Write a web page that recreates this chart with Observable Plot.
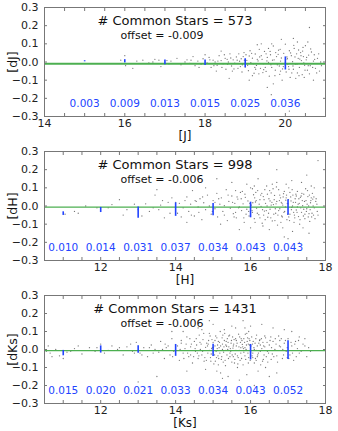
<!DOCTYPE html>
<html>
<head>
<meta charset="utf-8">
<script src="https://cdn.jsdelivr.net/npm/d3@7"></script>
<script src="https://cdn.jsdelivr.net/npm/@observablehq/plot@0.6"></script>
<style>
  html, body { margin: 0; padding: 0; background: #fff; }
  #chart { width: 338px; }
  #chart svg { display: block; }
</style>
</head>
<body>
<div id="chart"></div>
<script>
// ---------- DATA ----------
const panelNames = ["J", "H", "Ks"];
const commonStars = [573, 998, 1431];
const offsets = [-0.009, -0.006, -0.006];
const yTicks = [-0.3, -0.2, -0.1, 0.0, 0.1, 0.2, 0.3];
const xTicksJ = [14, 16, 18, 20];
const xTicksHK = [12, 14, 16, 18];

// binned error bars
const binMagJ = [15, 16, 17, 18, 19, 20];
const binMeanJ = [0.004, 0.004, -0.002, -0.004, -0.007, -0.008];
const binSigJ = [0.003, 0.009, 0.013, 0.015, 0.025, 0.036];

const binMagH = [11, 12, 13, 14, 15, 16, 17];
const binMeanH = [-0.042, -0.022, -0.036, -0.02, -0.02, -0.022, -0.008];
const binSigH = [0.010, 0.014, 0.031, 0.037, 0.034, 0.043, 0.043];

const binMagK = [11, 12, 13, 14, 15, 16, 17];
const binMeanK = [-0.02, 0.0, 0.0, -0.005, -0.005, -0.015, -0.003];
const binSigK = [0.015, 0.020, 0.021, 0.033, 0.034, 0.043, 0.052];

// scatter points (magnitude, difference)
const starsJ = `15.9,0.01 16.0,0.035 16.02,-0.02 16.3,0.005 16.45,0.01 16.6,-0.005 16.7,0.0 16.75,0.015 16.85,0.01
17.05,0.008 17.1,-0.01 17.15,0.005 17.3,0.02 17.4,-0.015 17.5,0.0 17.55,0.012 17.62,-0.008 17.7,0.03 17.75,-0.02
17.82,0.005 17.9,-0.012 17.95,0.018 18.05,-0.005 18.1,0.025 18.15,-0.03 18.2,0.01 18.25,0.0 18.3,-0.018 18.35,0.035
18.4,0.008 18.45,-0.01 18.5,0.02 18.52,-0.04 18.58,0.0 18.62,0.045 18.66,-0.022 18.7,0.012 18.74,-0.006 18.78,0.028
18.82,-0.035 18.86,0.004 18.9,0.018 18.93,-0.015 18.97,0.052 19.0,-0.028 19.04,0.009 19.08,-0.048 19.1,0.033
19.14,-0.004 19.18,0.021 19.22,-0.062 19.25,0.044 19.28,-0.019 19.32,0.006 19.35,0.07 19.38,-0.035 19.42,0.015
19.45,-0.01 19.48,0.058 19.52,-0.052 19.55,0.025 19.58,-0.002 19.6,-0.078 19.63,0.04 19.66,-0.03 19.7,0.088
19.72,0.012 19.75,-0.045 19.78,0.03 19.8,-0.015 19.83,0.065 19.86,-0.068 19.88,0.005 19.9,0.022 19.93,-0.038
19.96,0.048 19.98,-0.008 20.0,0.098 20.02,-0.055 20.05,0.018 20.08,-0.025 20.1,0.062 20.12,-0.085 20.15,0.035
20.18,0.002 20.2,-0.04 20.22,0.075 20.25,-0.012 20.28,0.045 20.3,-0.06 20.32,0.02 20.35,-0.03 20.38,0.052
20.4,0.008 20.42,-0.07 20.45,0.03 20.48,-0.018 20.5,0.09 20.52,0.012 20.55,-0.045 20.58,0.038 20.62,-0.02
20.65,0.055 20.7,0.005 20.75,-0.035 20.8,0.02 20.85,-0.05 19.4,0.1 19.55,-0.14 19.65,-0.18 20.1,-0.27 20.6,0.19
19.3,0.095 19.9,0.125 20.3,0.11 18.6,-0.09 19.1,-0.1 20.7,-0.1 20.2,0.13 19.7,-0.12 18.4,0.06
18.55,0.015 18.88,-0.025 19.02,0.04 19.2,-0.01 19.36,0.028 19.5,-0.03 19.68,0.01 19.85,-0.022 20.04,0.028
20.16,-0.06 20.33,0.066 20.46,-0.005 20.6,-0.065 20.72,0.04 19.12,0.062 19.44,-0.058 19.76,0.052 20.06,-0.012
20.26,-0.09 20.44,0.08 19.58,0.075 19.92,-0.1 20.36,0.016 18.68,-0.05 18.98,0.01 19.26,-0.04
18.12,0.012 18.22,-0.02 18.32,0.005 18.42,-0.03 18.48,0.04 18.56,-0.012 18.64,0.022 18.72,-0.038 18.8,0.01
18.84,0.045 18.92,-0.055 18.95,0.03 19.06,-0.018 19.16,0.048 19.24,-0.03 19.3,0.015 19.34,-0.065 19.4,0.035
19.46,-0.042 19.54,0.006 19.62,0.058 19.64,-0.015 19.74,-0.075 19.82,0.042 19.87,0.07 19.95,-0.025 20.01,0.015
20.09,-0.04 20.13,0.05 20.19,-0.022 20.24,0.028 20.29,-0.012 20.34,-0.075 20.39,0.035 20.43,0.06 20.49,-0.045
20.53,0.025 20.57,-0.02 20.63,0.072 20.68,-0.03 20.73,0.015 20.78,-0.06 20.83,0.045 20.88,0.0 19.52,0.045
19.88,-0.05 20.21,0.092 20.47,-0.085 19.18,-0.075 19.66,0.1 20.56,0.11 20.9,-0.02 17.85,-0.03 17.65,0.01 18.0,0.04
18.28,-0.05 16.2,-0.035 16.9,-0.025`;

const starsH = `11.05,-0.045 11.3,-0.03 11.6,0.0 11.9,-0.01 12.3,0.008 12.5,0.035 12.7,-0.02 12.9,0.01 13.1,-0.055
13.2,0.012 13.3,-0.03 13.45,0.06 13.55,-0.02 13.6,0.005 13.7,-0.065 13.8,0.02 13.9,0.045 14.05,-0.04 14.1,0.015
14.2,-0.01 14.3,0.05 14.35,-0.03 14.4,0.01 14.45,0.085 14.5,-0.055 14.55,0.025 14.6,-0.005 14.65,0.04 14.7,-0.075
14.75,0.018 14.8,-0.02 14.85,0.06 14.9,0.0 14.95,-0.045 15.0,0.03 15.05,-0.015 15.1,0.07 15.12,-0.06 15.18,0.01
15.22,0.045 15.26,-0.03 15.3,0.002 15.35,0.09 15.38,-0.08 15.42,0.025 15.46,-0.012 15.5,0.055 15.54,-0.042
15.58,0.015 15.62,-0.065 15.66,0.038 15.7,-0.005 15.73,0.075 15.76,-0.025 15.8,0.012 15.83,-0.09 15.86,0.048
15.9,-0.018 15.93,0.028 15.96,-0.055 16.0,0.1 16.02,0.005 16.05,-0.035 16.08,0.062 16.1,-0.07 16.13,0.022
16.16,-0.012 16.19,0.085 16.22,-0.048 16.25,0.035 16.28,-0.002 16.31,-0.095 16.34,0.052 16.37,-0.028 16.4,0.015
16.43,0.11 16.46,-0.062 16.49,0.04 16.52,-0.018 16.55,0.072 16.58,-0.082 16.61,0.008 16.64,0.058 16.67,-0.04
16.7,0.025 16.72,-0.105 16.75,0.09 16.78,-0.015 16.8,0.045 16.83,-0.055 16.86,0.005 16.88,0.068 16.91,-0.03
16.94,0.032 16.97,-0.075 17.0,0.012 17.02,0.1 17.05,-0.045 17.08,0.028 17.1,-0.008 17.13,0.06 17.16,-0.09
17.19,0.04 17.22,-0.022 17.25,0.08 17.28,-0.058 17.3,0.015 17.33,0.048 17.36,-0.035 17.39,0.002 17.42,0.065
17.45,-0.07 17.48,0.03 17.5,-0.015 17.53,0.052 17.56,-0.042 17.6,0.018 17.63,-0.06 17.66,0.038 17.7,-0.01
17.74,0.025 17.78,-0.03 15.5,0.13 16.2,0.15 16.9,-0.17 17.5,0.17 17.8,0.25 17.3,-0.2 16.5,-0.13 15.9,0.12
17.1,0.14 14.8,0.1 16.7,0.13 17.4,-0.12 16.0,-0.12 15.2,-0.1 17.7,0.1 16.15,0.03 16.35,-0.05 16.55,0.005
16.75,-0.025 16.95,0.045 17.15,-0.035 17.35,0.055 17.55,0.0 17.65,0.07 16.45,0.065 16.85,-0.06 17.25,-0.005
15.75,0.04 15.95,-0.03 16.65,-0.08 17.45,-0.045 17.05,0.075 16.25,-0.065 16.6,0.095 17.2,0.02
16.06,0.018 16.3,0.07 16.52,0.028 16.68,0.012 16.9,0.08 17.12,0.0 17.32,-0.075 17.52,0.085 17.68,-0.05
16.12,-0.09 16.42,-0.025 16.62,-0.045 16.82,0.02 17.02,-0.06 17.22,0.055 17.42,-0.018 17.62,0.045
15.6,-0.035 15.85,0.065 16.38,0.09 16.78,0.06 17.18,-0.065 17.58,-0.085 16.98,0.015 17.38,0.03
15.52,0.02 15.56,-0.06 15.64,0.05 15.68,-0.01 15.78,0.08 15.88,-0.045 15.98,0.015 16.04,-0.025 16.11,0.045
16.14,0.075 16.18,-0.04 16.23,0.01 16.27,0.06 16.32,-0.02 16.36,0.035 16.39,-0.075 16.44,0.0 16.48,-0.04
16.51,0.085 16.54,-0.065 16.57,0.02 16.63,0.035 16.66,-0.015 16.69,0.105 16.73,-0.05 16.77,0.03 16.81,-0.09
16.84,0.015 16.87,0.05 16.89,-0.035 16.93,-0.005 16.96,0.06 16.99,-0.045 17.01,0.035 17.04,-0.08 17.07,0.05
17.09,-0.02 17.11,0.09 17.14,0.02 17.17,-0.05 17.21,0.065 17.24,-0.035 17.27,0.01 17.29,0.04 17.31,-0.1
17.34,-0.01 17.37,0.07 17.41,-0.055 17.44,0.025 17.47,0.095 17.49,-0.03 17.51,0.01 17.54,-0.06 17.57,0.06
17.59,-0.02 17.61,0.03 17.64,-0.04 17.67,0.0 17.69,0.05 17.72,-0.07 17.75,0.04 17.77,0.01 17.8,-0.05
15.3,-0.05 15.15,0.04 15.05,0.02 14.98,-0.03 14.72,0.05 14.62,-0.035 14.52,0.03 14.42,-0.05 14.25,0.03
14.15,-0.06 14.0,0.02 13.85,-0.04 13.65,0.03 13.4,-0.01 13.0,-0.02 12.6,-0.05 12.2,-0.01 11.4,-0.04 15.4,0.06
15.6,0.085 15.82,-0.065 16.05,0.095 16.33,-0.11 16.58,0.12 16.86,-0.12 17.12,-0.14 17.36,0.13 17.62,0.11
16.1,0.11 16.95,0.12 17.56,-0.15 15.7,-0.13 14.3,-0.09 13.5,0.09 16.7,0.2 15.1,0.15 17.0,-0.18`;

const starsK = `10.55,-0.01 10.65,-0.02 10.8,0.0 10.9,-0.035 11.1,-0.015 11.3,0.005 11.5,-0.025 11.7,0.01 11.85,-0.01
12.0,0.03 12.2,-0.005 12.3,0.02 12.45,0.0 12.6,-0.03 12.7,0.015 12.85,-0.01 12.95,0.04 13.05,-0.02 13.15,0.01
13.25,-0.04 13.35,0.025 13.45,0.0 13.55,-0.015 13.6,0.045 13.7,-0.05 13.75,0.01 13.85,-0.03 13.9,0.06 13.95,-0.01
14.05,0.02 14.1,-0.06 14.15,0.035 14.2,-0.02 14.25,0.005 14.3,0.07 14.35,-0.04 14.4,0.015 14.45,-0.075 14.5,0.045
14.53,-0.01 14.56,0.025 14.6,-0.05 14.63,0.08 14.66,0.0 14.7,-0.03 14.73,0.055 14.76,-0.065 14.8,0.012 14.83,0.035
14.86,-0.02 14.9,0.09 14.93,-0.045 14.96,0.005 15.0,0.04 15.02,-0.08 15.05,0.02 15.08,-0.01 15.1,0.065 15.13,-0.035
15.16,0.01 15.19,0.1 15.22,-0.055 15.25,0.03 15.28,-0.015 15.3,0.05 15.33,-0.09 15.36,0.018 15.39,0.0 15.42,0.075
15.45,-0.04 15.48,0.035 15.5,-0.07 15.53,0.008 15.56,0.055 15.59,-0.025 15.62,0.02 15.65,-0.1 15.68,0.085
15.7,-0.005 15.73,0.04 15.76,-0.05 15.79,0.015 15.82,0.06 15.85,-0.035 15.88,0.0 15.91,0.045 15.94,-0.075
15.97,0.025 16.0,-0.015 16.03,0.07 16.06,-0.045 16.09,0.01 16.12,0.035 16.15,-0.06 16.18,0.02 16.21,-0.02
16.24,0.05 16.27,-0.085 16.3,0.005 16.33,0.04 16.36,-0.03 16.4,0.065 16.45,-0.01 16.5,0.025 16.55,-0.055
16.6,0.045 16.65,0.0 16.7,-0.035 16.75,0.075 16.8,0.015 16.85,-0.05 16.9,0.035 16.95,-0.01 17.0,0.06 17.05,-0.03
17.1,0.02 17.15,-0.06 17.2,0.045 17.25,0.005 17.3,-0.02 17.4,0.03 17.5,-0.04 14.6,0.12 15.0,0.14 15.4,-0.15
15.8,0.16 16.2,-0.12 16.6,0.12 15.2,-0.13 14.2,0.1 13.5,-0.15 16.9,0.11 15.6,0.12 15.9,-0.14 17.3,0.07 16.4,-0.1
14.8,-0.11 15.3,0.11 16.0,0.13 15.7,-0.17 14.85,0.02 14.95,-0.025 15.05,0.05 15.15,-0.05 15.25,0.0 15.35,0.045
15.45,-0.02 15.55,0.03 15.65,-0.035 15.75,0.06 15.85,0.01 15.95,-0.045 16.05,0.03 16.15,-0.005 16.25,0.055
15.12,0.025 15.32,-0.06 15.52,0.07 15.72,-0.06 15.92,0.065 16.1,-0.075 14.92,0.075 15.42,0.015 15.62,0.05
15.82,-0.015 14.68,0.03 14.78,-0.045 14.98,0.01 15.18,-0.02 15.38,0.06 15.58,-0.055 15.78,0.028 15.98,0.05
16.18,-0.04 16.38,0.015 16.58,-0.025 16.78,0.05 16.98,-0.045 17.18,0.03 15.06,-0.065 15.26,0.08 15.46,0.005
15.66,-0.08 15.86,0.085 16.06,-0.02 16.26,0.025 16.46,-0.07 16.66,0.06 16.86,0.0 14.58,-0.02 14.88,0.05
15.14,0.045 15.34,-0.005 15.54,-0.04 15.74,0.01 15.94,0.03 16.14,0.06 16.34,-0.055 16.54,0.07 14.4,-0.03
14.15,0.05 13.8,0.02 13.4,-0.02 12.8,0.03 12.1,-0.02 11.4,0.02 10.7,-0.04 17.45,0.02 17.6,-0.01
14.52,0.005 14.55,0.06 14.62,-0.035 14.65,0.04 14.72,-0.01 14.75,0.09 14.82,-0.06 14.87,0.03 14.9,-0.005
14.94,-0.065 14.97,0.055 15.01,0.01 15.04,-0.03 15.07,0.075 15.09,-0.045 15.11,0.005 15.14,-0.085 15.17,0.04
15.2,0.02 15.23,-0.04 15.24,0.065 15.27,-0.07 15.29,0.015 15.31,0.09 15.34,0.025 15.37,-0.03 15.4,0.04
15.41,-0.05 15.44,0.08 15.47,-0.01 15.49,0.05 15.51,-0.03 15.54,0.02 15.57,-0.075 15.6,0.06 15.61,-0.005
15.64,0.035 15.67,-0.045 15.69,0.015 15.71,0.07 15.74,-0.02 15.77,0.05 15.8,-0.085 15.81,0.005 15.84,0.04
15.87,-0.055 15.89,0.025 15.9,0.09 15.93,-0.02 15.96,0.06 15.99,-0.06 16.01,0.02 16.04,-0.035 16.07,0.045
16.1,0.0 16.13,-0.05 16.16,0.08 16.19,-0.03 16.22,0.035 16.26,-0.01 16.29,0.06 16.32,-0.065 16.35,0.02
16.38,0.075 16.42,-0.04 16.44,0.04 16.48,-0.02 16.52,0.05 16.56,0.01 16.62,-0.04 16.68,0.03 16.72,-0.07
16.77,0.02 16.82,0.06 16.88,-0.03 16.93,0.05 16.98,0.01 17.02,-0.05 17.08,0.04 17.12,-0.02 17.22,-0.04
17.28,0.05 17.35,-0.01 17.45,0.06 17.55,0.01 14.12,0.0 14.22,-0.05 14.28,0.03 14.38,0.06 14.48,-0.04
14.32,-0.02 14.42,0.03 13.65,0.0 13.72,0.03 13.92,-0.04 13.3,0.01 13.1,-0.03 12.5,0.01 12.9,-0.02 11.9,0.01
11.2,-0.01 11.0,-0.05 10.6,0.02 14.7,0.11 15.1,-0.12 15.5,0.13 15.85,0.12 16.3,0.14 16.7,-0.13 17.1,0.1
15.25,-0.16 15.95,0.1 16.5,-0.15 14.3,-0.12 13.9,0.1 13.0,-0.18 15.45,0.22 16.1,-0.2 14.9,0.16`;

function parseStars(s) {
  return s.trim().split(/\s+/).map(p => { const [m, d] = p.split(",").map(Number); return {m, d}; });
}

const panels = [
  {stars: parseStars(starsJ), mag: binMagJ, mean: binMeanJ, sig: binSigJ, xDomain: [14, 21], xTicks: xTicksJ, minor: d3.range(14, 21.01, 0.5)},
  {stars: parseStars(starsH), mag: binMagH, mean: binMeanH, sig: binSigH, xDomain: [10.5, 18], xTicks: xTicksHK, minor: d3.range(10.5, 18.01, 0.5)},
  {stars: parseStars(starsK), mag: binMagK, mean: binMeanK, sig: binSigK, xDomain: [10.5, 18], xTicks: xTicksHK, minor: d3.range(10.5, 18.01, 0.5)}
];

// per-panel layout (svg heights)
const panelHeights = [144, 144, 143];

const blue = "#2244ff";
const frameColor = "#777";
const fontFamily = "DejaVu Sans, sans-serif";

panels.forEach((p, i) => {
  const bins = p.mag.map((m, k) => ({m, mean: p.mean[k], sig: p.sig[k], label: p.sig[k].toFixed(3)}));
  const chart = Plot.plot({
    width: 338,
    height: panelHeights[i],
    marginLeft: 44,
    marginRight: 13,
    marginTop: 7,
    marginBottom: 28,
    style: {fontFamily, fontSize: "11px", color: "#222", background: "#fff"},
    x: {domain: p.xDomain},
    y: {domain: [-0.3, 0.3]},
    marks: [
      Plot.dot(p.stars, {x: "m", y: "d", r: 0.65, fill: "#555", fillOpacity: 0.8, stroke: null}),
      Plot.ruleY([offsets[i]], {stroke: "#4caf50", strokeWidth: i === 0 ? 2 : 1.3}),
      Plot.ruleX(bins, {x: "m", y1: d => d.mean - d.sig, y2: d => d.mean + d.sig, stroke: blue, strokeWidth: 1.6}),
      Plot.text(bins, {x: "m", y: -0.23, text: "label", fill: blue, fontSize: 10.5}),
      Plot.text([`# Common Stars = ${commonStars[i]}`], {frameAnchor: "top", lineAnchor: "middle", dx: -10, dy: 13, fontSize: 13, fill: "#111"}),
      Plot.text([`offset = ${offsets[i].toFixed(3)}`], {frameAnchor: "top", lineAnchor: "middle", dx: -23, dy: 28, fontSize: 11, fill: "#111"}),
      Plot.text([`[${panelNames[i]}]`], {frameAnchor: "bottom", textAnchor: "middle", lineAnchor: "middle", dy: 20, fontSize: 12, fill: "#111"}),
      Plot.text([`[d${panelNames[i]}]`], {frameAnchor: "left", textAnchor: "middle", lineAnchor: "middle", rotate: -90, dx: -32, fontSize: 12.5, fill: "#111"}),
      Plot.axisX(p.xTicks, {tickSize: 0, tickPadding: 3, fontSize: 11, label: null}),
      Plot.axisX(p.minor, {anchor: "bottom", tickSize: -3, tickFormat: () => "", label: null, stroke: frameColor}),
      Plot.axisX(p.minor, {anchor: "top", tickSize: -3, tickFormat: () => "", label: null, stroke: frameColor}),
      Plot.axisY(yTicks, {tickSize: 0, tickPadding: 6, tickFormat: d3.format(".1f"), fontSize: 11, label: null}),
      Plot.axisY(yTicks, {anchor: "left", tickSize: -3, tickFormat: () => "", label: null, stroke: frameColor}),
      Plot.axisY(yTicks, {anchor: "right", tickSize: -3, tickFormat: () => "", label: null, stroke: frameColor}),
      Plot.frame({stroke: frameColor, strokeWidth: 1})
    ]
  });
  document.getElementById("chart").appendChild(chart);
});
</script>
</body>
</html>
